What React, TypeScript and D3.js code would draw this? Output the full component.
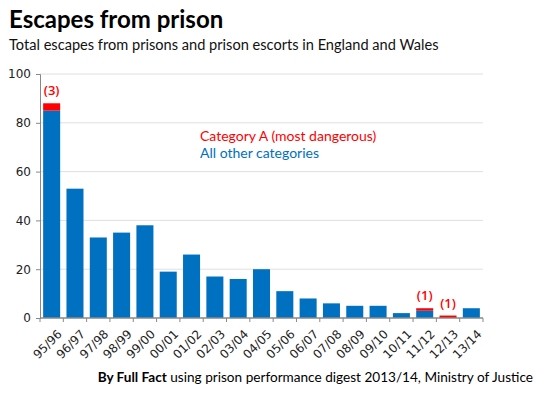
import React, { useEffect, useRef } from 'react';
import * as d3 from 'd3';

const years = ['95/96', '96/97', '97/98', '98/99', '99/00', '00/01', '01/02', '02/03', '03/04', '04/05',
  '05/06', '06/07', '07/08', '08/09', '09/10', '10/11', '11/12', '12/13', '13/14'];
const otherCats = [85, 53, 33, 35, 38, 19, 26, 17, 16, 20, 11, 8, 6, 5, 5, 2, 3, 0, 4];
const catA = [3, 0, 0, 0, 0, 0, 0, 0, 0, 0, 0, 0, 0, 0, 0, 0, 1, 1, 0];
const yTicks = [0, 20, 40, 60, 80, 100];

const BLUE = '#0070c0';
const RED = '#ff0000';

export default function App() {
  const ref = useRef<SVGSVGElement>(null);

  useEffect(() => {
    const svg = d3.select(ref.current);
    svg.selectAll('*').remove();

    const margin = { top: 74, right: 67, bottom: 78, left: 40 };
    const W = 550, H = 396;
    const width = W - margin.left - margin.right;
    const height = H - margin.top - margin.bottom;

    const x = d3.scaleBand().domain(years).range([0, width]).paddingInner(0.27).paddingOuter(0.135);
    const y = d3.scaleLinear().domain([0, 100]).range([height, 0]);

    const g = svg.append('g').attr('transform', `translate(${margin.left},${margin.top})`);

    // gridlines
    g.selectAll('.grid').data(yTicks.slice(1)).enter().append('line')
      .attr('x1', 0).attr('x2', width)
      .attr('y1', d => y(d)).attr('y2', d => y(d))
      .attr('stroke', '#e0e0e0').attr('stroke-width', 1);

    // bars
    g.selectAll('.blue').data(years).enter().append('rect')
      .attr('x', d => x(d)!)
      .attr('width', x.bandwidth())
      .attr('y', (d, i) => y(otherCats[i]))
      .attr('height', (d, i) => height - y(otherCats[i]))
      .attr('fill', BLUE);

    g.selectAll('.red').data(years).enter().append('rect')
      .attr('x', d => x(d)!)
      .attr('width', x.bandwidth())
      .attr('y', (d, i) => y(otherCats[i] + catA[i]))
      .attr('height', (d, i) => y(otherCats[i]) - y(otherCats[i] + catA[i]))
      .attr('fill', RED);

    // red annotations
    g.selectAll('.ann').data(years.filter((d, i) => catA[i] > 0)).enter().append('text')
      .attr('x', d => x(d)! + x.bandwidth() / 2)
      .attr('y', d => y(otherCats[years.indexOf(d)] + catA[years.indexOf(d)]) - 8)
      .attr('text-anchor', 'middle')
      .attr('fill', RED)
      .style('font', '600 13px "Open Sans", sans-serif')
      .text(d => `(${catA[years.indexOf(d)]})`);

    // y axis
    const yAxis = g.append('g').call(d3.axisLeft(y).tickValues(yTicks).tickSize(4).tickPadding(5));
    yAxis.select('.domain').attr('stroke', '#888');
    yAxis.selectAll('.tick line').attr('stroke', '#888');
    yAxis.selectAll('text').style('font', '12px "DejaVu Sans", sans-serif').attr('fill', '#222');

    // x axis with boundary ticks
    const xa = g.append('g').attr('transform', `translate(0,${height})`);
    xa.append('line').attr('x1', 0).attr('x2', width).attr('stroke', '#888').attr('stroke-width', 1.5);
    const step = x.step();
    const bounds = d3.range(years.length + 1).map(i => i * step);
    xa.selectAll('.bt').data(bounds).enter().append('line')
      .attr('x1', d => d).attr('x2', d => d)
      .attr('y1', 0).attr('y2', 4)
      .attr('stroke', '#888');
    xa.selectAll('.lbl').data(years).enter().append('text')
      .attr('transform', d => `translate(${x(d)! + x.bandwidth() / 2 + 5},${11}) rotate(-45)`)
      .attr('text-anchor', 'end')
      .attr('dy', '0.7em')
      .attr('fill', '#222')
      .style('font', '12px "DejaVu Sans", sans-serif')
      .text(d => d);

    // legend
    svg.append('text').attr('x', 200).attr('y', 141).attr('fill', RED)
      .style('font', '14px Lato, sans-serif').text('Category A (most dangerous)');
    svg.append('text').attr('x', 200).attr('y', 158).attr('fill', BLUE)
      .style('font', '14px Lato, sans-serif').text('All other categories');

    // titles
    svg.append('text').attr('x', 9).attr('y', 28).attr('fill', '#000')
      .style('font', 'bold 24px Lato, sans-serif').text('Escapes from prison');
    svg.append('text').attr('x', 9).attr('y', 50).attr('fill', '#111')
      .style('font', '14.6px Lato, sans-serif').text('Total escapes from prisons and prison escorts in England and Wales');

    // footer
    const ft = svg.append('text').attr('x', 533).attr('y', 382).attr('text-anchor', 'end').attr('fill', '#000')
      .style('font', '13.6px Lato, sans-serif');
    ft.append('tspan').style('font-weight', 'bold').text('By Full Fact');
    ft.append('tspan').text(' using prison performance digest 2013/14, Ministry of Justice');
  }, []);

  return <svg ref={ref} width={550} height={396} style={{ position: 'absolute', left: 0, top: 0 }} />;
}
